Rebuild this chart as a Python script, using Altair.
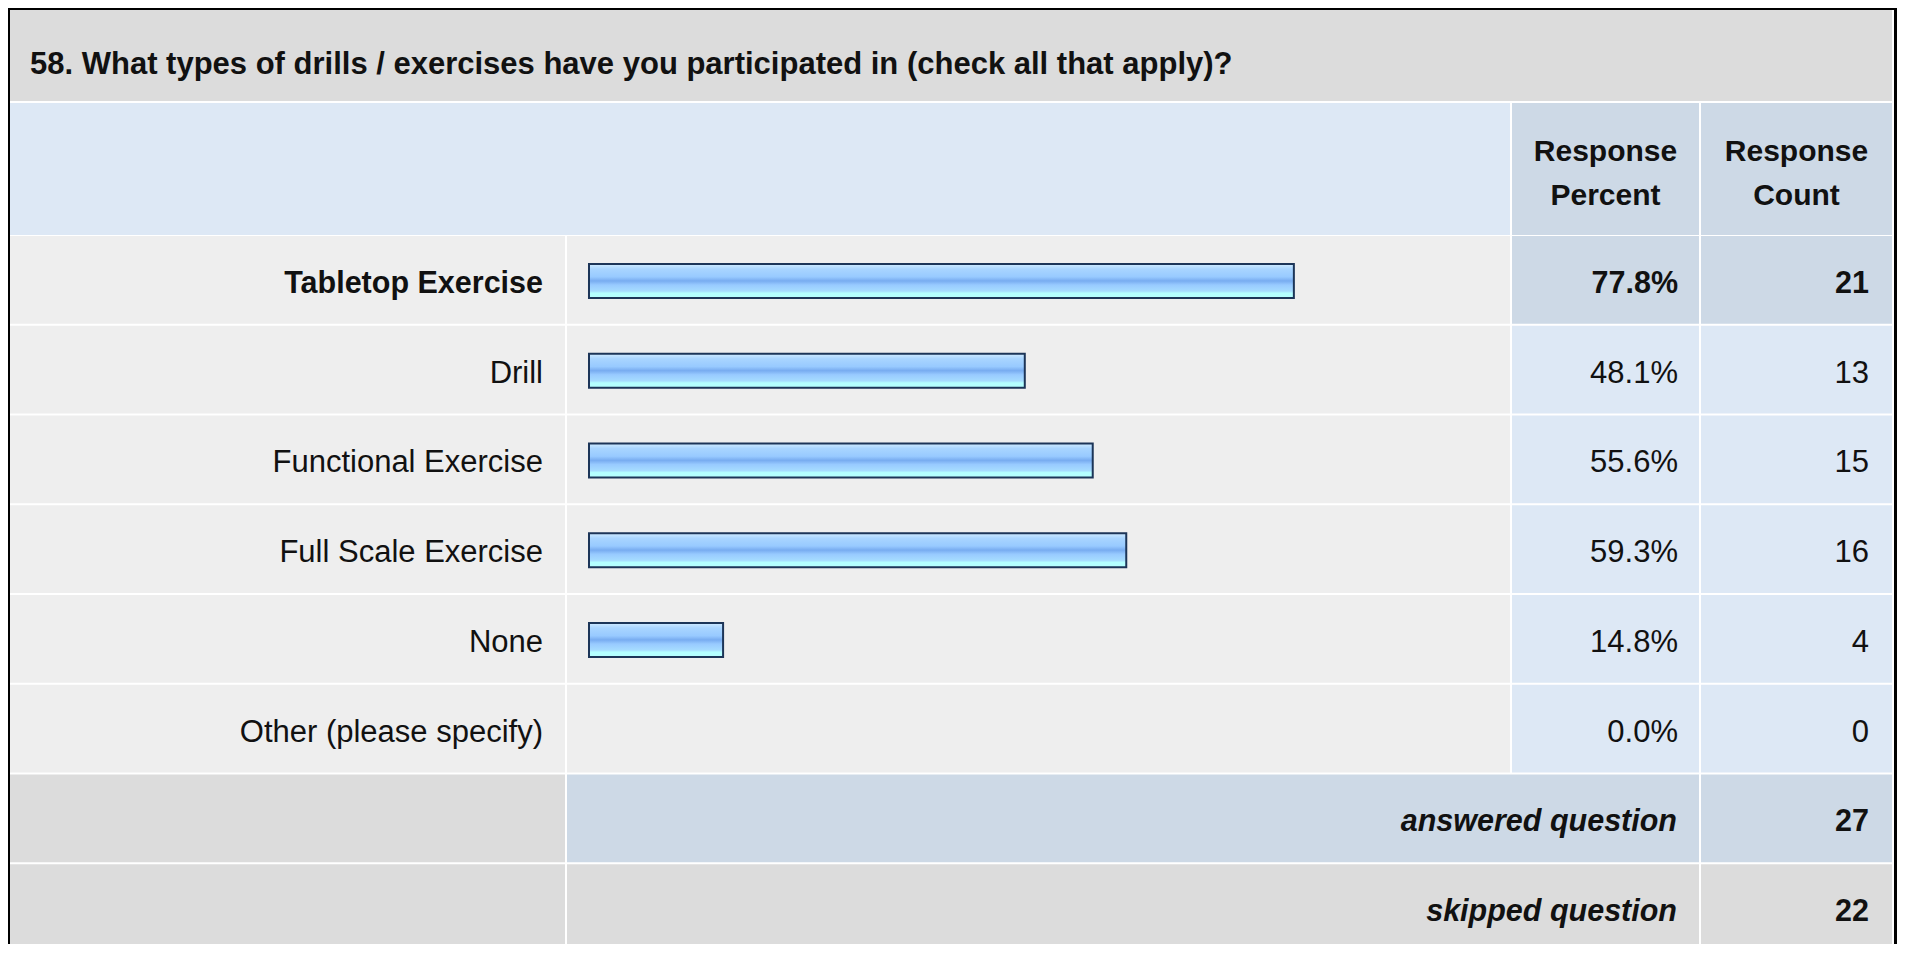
import altair as alt
import pandas as pd

# ---------------- data ----------------
title_text = "58. What types of drills / exercises have you participated in (check all that apply)?"
labels = ["Tabletop Exercise", "Drill", "Functional Exercise", "Full Scale Exercise", "None", "Other (please specify)"]
percents = [77.8, 48.1, 55.6, 59.3, 14.8, 0.0]
counts = [21, 13, 15, 16, 4, 0]
header_percent = "Response\nPercent"
header_count = "Response\nCount"
summary_labels = ["answered question", "skipped question"]
summary_counts = [27, 22]

# ---------------- layout (page pixels) ----------------
OFF = 8
def px(v):
    return v - OFF

COL_L = (10, 565)
COL_B = (567, 1510)
COL_P = (1512, 1699)
COL_C = (1701, 1892)
TITLE_Y = (10, 101)
HEAD_Y = (103, 235)
ROW0 = 236
PITCH = 89.75
GAP = 2
W, H = 1889, 936
FONT = "Liberation Sans, Arial, Helvetica, sans-serif"

GRAY = "#dcdcdc"
ROWBG = "#eeeeee"
LBLUE = "#dde8f5"
DBLUE = "#cdd9e6"
INK = "#111111"

hi = percents.index(max(percents))


def row_y(i):
    top = ROW0 + i * PITCH
    return top, top + PITCH - GAP


cells = []
def cell(xr, yr, fill):
    cells.append(dict(x=px(xr[0]), x2=px(xr[1]), y=px(yr[0]), y2=px(yr[1]), fill=fill))

cell((COL_L[0], COL_C[1]), TITLE_Y, GRAY)
cell((COL_L[0], COL_B[1]), HEAD_Y, LBLUE)
cell(COL_P, HEAD_Y, DBLUE)
cell(COL_C, HEAD_Y, DBLUE)
for i in range(len(labels)):
    yr = row_y(i)
    cell(COL_L, yr, ROWBG)
    cell(COL_B, yr, ROWBG)
    c = DBLUE if i == hi else LBLUE
    cell(COL_P, yr, c)
    cell(COL_C, yr, c)
n = len(labels)
# answered row
yr = row_y(n)
cell(COL_L, yr, GRAY)
cell((COL_B[0], COL_P[1]), yr, DBLUE)
cell(COL_C, yr, DBLUE)
# skipped row (runs off the bottom)
top = row_y(n + 1)[0]
yr = (top, top + 200)
cell(COL_L, yr, GRAY)
cell((COL_B[0], COL_P[1]), yr, GRAY)
cell(COL_C, yr, GRAY)

cells_df = pd.DataFrame(cells)

bg = alt.Chart(cells_df).mark_rect(strokeWidth=0).encode(
    x=alt.X("x:Q", scale=None),
    x2="x2:Q",
    y=alt.Y("y:Q", scale=None),
    y2="y2:Q",
    color=alt.Color("fill:N", scale=None),
)

border_df = pd.DataFrame([dict(x=0.5, x2=W - 1.5, y=0.5, y2=H + 100)])
border = alt.Chart(border_df).mark_rect(fill=None, stroke="#000000", strokeWidth=3, filled=False).encode(
    x=alt.X("x:Q", scale=None), x2="x2:Q", y=alt.Y("y:Q", scale=None), y2="y2:Q"
)

# ---------------- bars ----------------
bars_df = pd.DataFrame({"label": labels, "pct": percents})
grad = alt.Gradient(
    gradient="linear",
    stops=[
        alt.GradientStop(offset=0.0, color="#d2ecff"),
        alt.GradientStop(offset=0.15, color="#a9d5ff"),
        alt.GradientStop(offset=0.38, color="#98caff"),
        alt.GradientStop(offset=0.5, color="#78acf0"),
        alt.GradientStop(offset=0.62, color="#98caff"),
        alt.GradientStop(offset=0.8, color="#a6dcff"),
        alt.GradientStop(offset=0.86, color="#b4ffff"),
        alt.GradientStop(offset=1.0, color="#b4ffff"),
    ],
    x1=0, x2=0, y1=0, y2=1,
)
bw = 34
pi_ = 1 - bw / PITCH
po_ = (PITCH - bw) / 2 / PITCH
bars = alt.Chart(bars_df).transform_filter("datum.pct > 0").mark_bar(
    color=grad, stroke="#1c3558", strokeWidth=2
).encode(
    x=alt.X("pct:Q", scale=alt.Scale(domain=[0, 100], range=[px(589), px(589 + 906)]), axis=None),
    y=alt.Y("label:N", scale=alt.Scale(domain=labels, range=[px(ROW0), px(ROW0 + n * PITCH)],
                                        paddingInner=pi_, paddingOuter=po_), axis=None),
)

# ---------------- texts ----------------
texts = []
def row_c(i):
    a, b = row_y(i)
    return px((a + b) / 2) + 4

texts.append(dict(x=px(30), y=px(65), text=title_text, kind="title"))
texts.append(dict(x=px((COL_P[0] + COL_P[1]) / 2), y=px(152), text=header_percent, kind="header"))
texts.append(dict(x=px((COL_C[0] + COL_C[1]) / 2), y=px(152), text=header_count, kind="header"))
for i, (lab, p, c) in enumerate(zip(labels, percents, counts)):
    k = "bold" if i == hi else "normal"
    texts.append(dict(x=px(543), y=row_c(i), text=lab, kind=k))
    texts.append(dict(x=px(1678), y=row_c(i), text=f"{p:.1f}%", kind=k))
    texts.append(dict(x=px(1869), y=row_c(i), text=str(c), kind=k))
for j, (lab, c) in enumerate(zip(summary_labels, summary_counts)):
    yc = row_c(n + j) if j == 0 else px(row_y(n + j)[0] + 44) + 4
    texts.append(dict(x=px(1677), y=yc, text=lab, kind="italic"))
    texts.append(dict(x=px(1869), y=yc, text=str(c), kind="bold"))
texts_df = pd.DataFrame(texts)

def text_layer(kind, **kw):
    base = dict(font=FONT, fontSize=30, color=INK, baseline="middle")
    base.update(kw)
    return alt.Chart(texts_df).transform_filter(f"datum.kind == '{kind}'").mark_text(**base).encode(
        x=alt.X("x:Q", scale=None), y=alt.Y("y:Q", scale=None), text="text:N"
    )

t_title = text_layer("title", align="left", fontWeight="bold", fontSize=31)
t_header = text_layer("header", align="center", fontWeight="bold", fontSize=30, lineBreak="\n", lineHeight=44)
t_norm = text_layer("normal", align="right", fontSize=31)
t_bold = text_layer("bold", align="right", fontWeight="bold", fontSize=30.5)
t_ital = text_layer("italic", align="right", fontWeight="bold", fontStyle="italic", fontSize=30.5)

chart = alt.layer(bg, bars, t_title, t_header, t_norm, t_bold, t_ital, border).properties(
    width=W, height=H, padding=0, background="#ffffff",
    autosize=alt.AutoSizeParams(type="none"),
).configure_view(strokeWidth=0)

chart.save("out.html", embed_options={"renderer": "svg", "actions": False})
